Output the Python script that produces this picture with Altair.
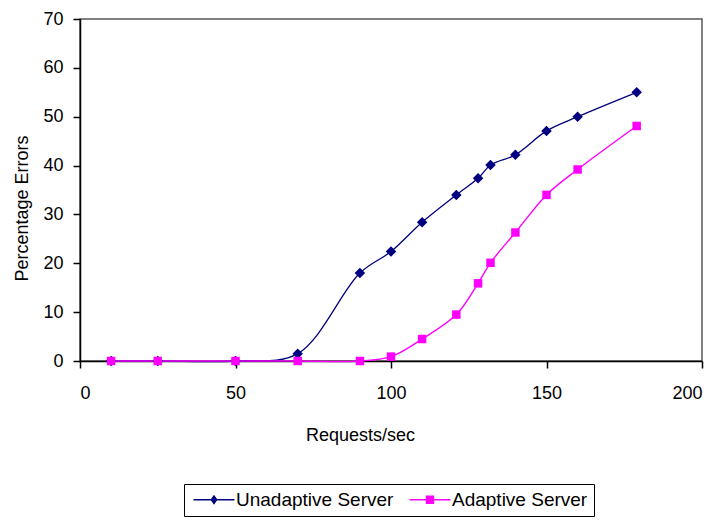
import altair as alt
import pandas as pd

requests = [10, 25, 50, 70, 90, 100, 110, 121, 128, 132, 140, 150, 160, 179]
unadaptive = [0, 0, 0, 1.5, 18, 22.4, 28.4, 34, 37.4, 40.1, 42.2, 47.1, 50, 55]
adaptive = [0, 0, 0, 0, 0, 0.9, 4.5, 9.5, 15.9, 20.1, 26.3, 34, 39.2, 48.1]
series_names = ["Unadaptive Server", "Adaptive Server"]
colors = ["#000080", "#ff00ff"]
x_ticks = [0, 50, 100, 150, 200]
y_ticks = [0, 10, 20, 30, 40, 50, 60, 70]

df = pd.DataFrame({
    "requests": requests + requests,
    "errors": unadaptive + adaptive,
    "series": [series_names[0]] * len(requests) + [series_names[1]] * len(requests),
})

FONT = "Liberation Sans"

# legend symbols: line segment with marker (unit = sqrt(size)/2 px)
path_u = "M-0.857,-0.107H5V0.107H-0.857Z M2.07,-0.7L2.57,0L2.07,0.7L1.57,0Z"
path_a = "M-0.857,-0.107H5V0.107H-0.857Z M1.47,-0.6H2.67V0.6H1.47Z"

x_enc = alt.X(
    "requests:Q",
    scale=alt.Scale(domain=[0, 200], nice=False, zero=False),
    axis=alt.Axis(values=x_ticks, title="Requests/sec", grid=False, tickSize=7,
                  labelPadding=16, titleX=280, titleY=74.5, titleAlign="center",
                  titleBaseline="middle"),
)
y_enc = alt.Y(
    "errors:Q",
    scale=alt.Scale(domain=[0, 70], nice=False, zero=False),
    axis=alt.Axis(values=y_ticks, title="Percentage Errors", grid=False, tickSize=7,
                  labelPadding=10, titleX=-57.5, titleY=189, titleAngle=270,
                  titleAlign="center", titleBaseline="middle"),
)
color_scale = alt.Scale(domain=series_names, range=colors)
color_enc = alt.Color("series:N", scale=color_scale, legend=None)

base = alt.Chart(df)

line_u = base.transform_filter(alt.datum.series == series_names[0]).mark_line(
    interpolate="catmull-rom", strokeWidth=1.3).encode(x=x_enc, y=y_enc, color=color_enc)
pts_u = base.transform_filter(alt.datum.series == series_names[0]).mark_point(
    shape="diamond", filled=True, size=110, opacity=1).encode(x=x_enc, y=y_enc, color=color_enc)
line_a = base.transform_filter(alt.datum.series == series_names[1]).mark_line(
    interpolate="catmull-rom", strokeWidth=1.4).encode(x=x_enc, y=y_enc, color=color_enc)
pts_a = base.transform_filter(alt.datum.series == series_names[1]).mark_point(
    shape="square", filled=True, size=72, opacity=1).encode(x=x_enc, y=y_enc, color=color_enc)

leg = alt.Legend(
    title=None, orient="none", legendX=104, legendY=465, direction="horizontal",
    strokeColor="black", fillColor="white", padding=6, symbolSize=196,
    symbolStrokeWidth=0, symbolOpacity=1, labelFont=FONT, labelFontSize=19,
    labelColor="black", labelOffset=27, columnPadding=12, cornerRadius=0,
)
legend_layer = base.mark_point(
    filled=True, strokeWidth=0, size=196, opacity=0).encode(
    x=x_enc, y=y_enc,
    fill=alt.Fill("series:N", scale=alt.Scale(domain=series_names, range=colors), legend=leg),
    shape=alt.Shape("series:N", scale=alt.Scale(domain=series_names, range=[path_u, path_a]), legend=leg),
)

chart = alt.layer(legend_layer, line_u, line_a, pts_u, pts_a).properties(
    width=622, height=342,
    autosize=alt.AutoSizeParams(type="none"),
    padding={"left": 72, "top": 11, "right": 14, "bottom": 159},
    background="white",
).configure_view(
    stroke="#555555", strokeWidth=1.5,
).configure_axis(
    domainColor="black", domainWidth=1.5, tickColor="black", tickWidth=1.5,
    labelColor="black", labelFont=FONT, labelFontSize=18,
    titleColor="black", titleFont=FONT, titleFontSize=18, titleFontWeight="normal",
)

chart.save("out.html", embed_options={"renderer": "svg", "actions": False})
